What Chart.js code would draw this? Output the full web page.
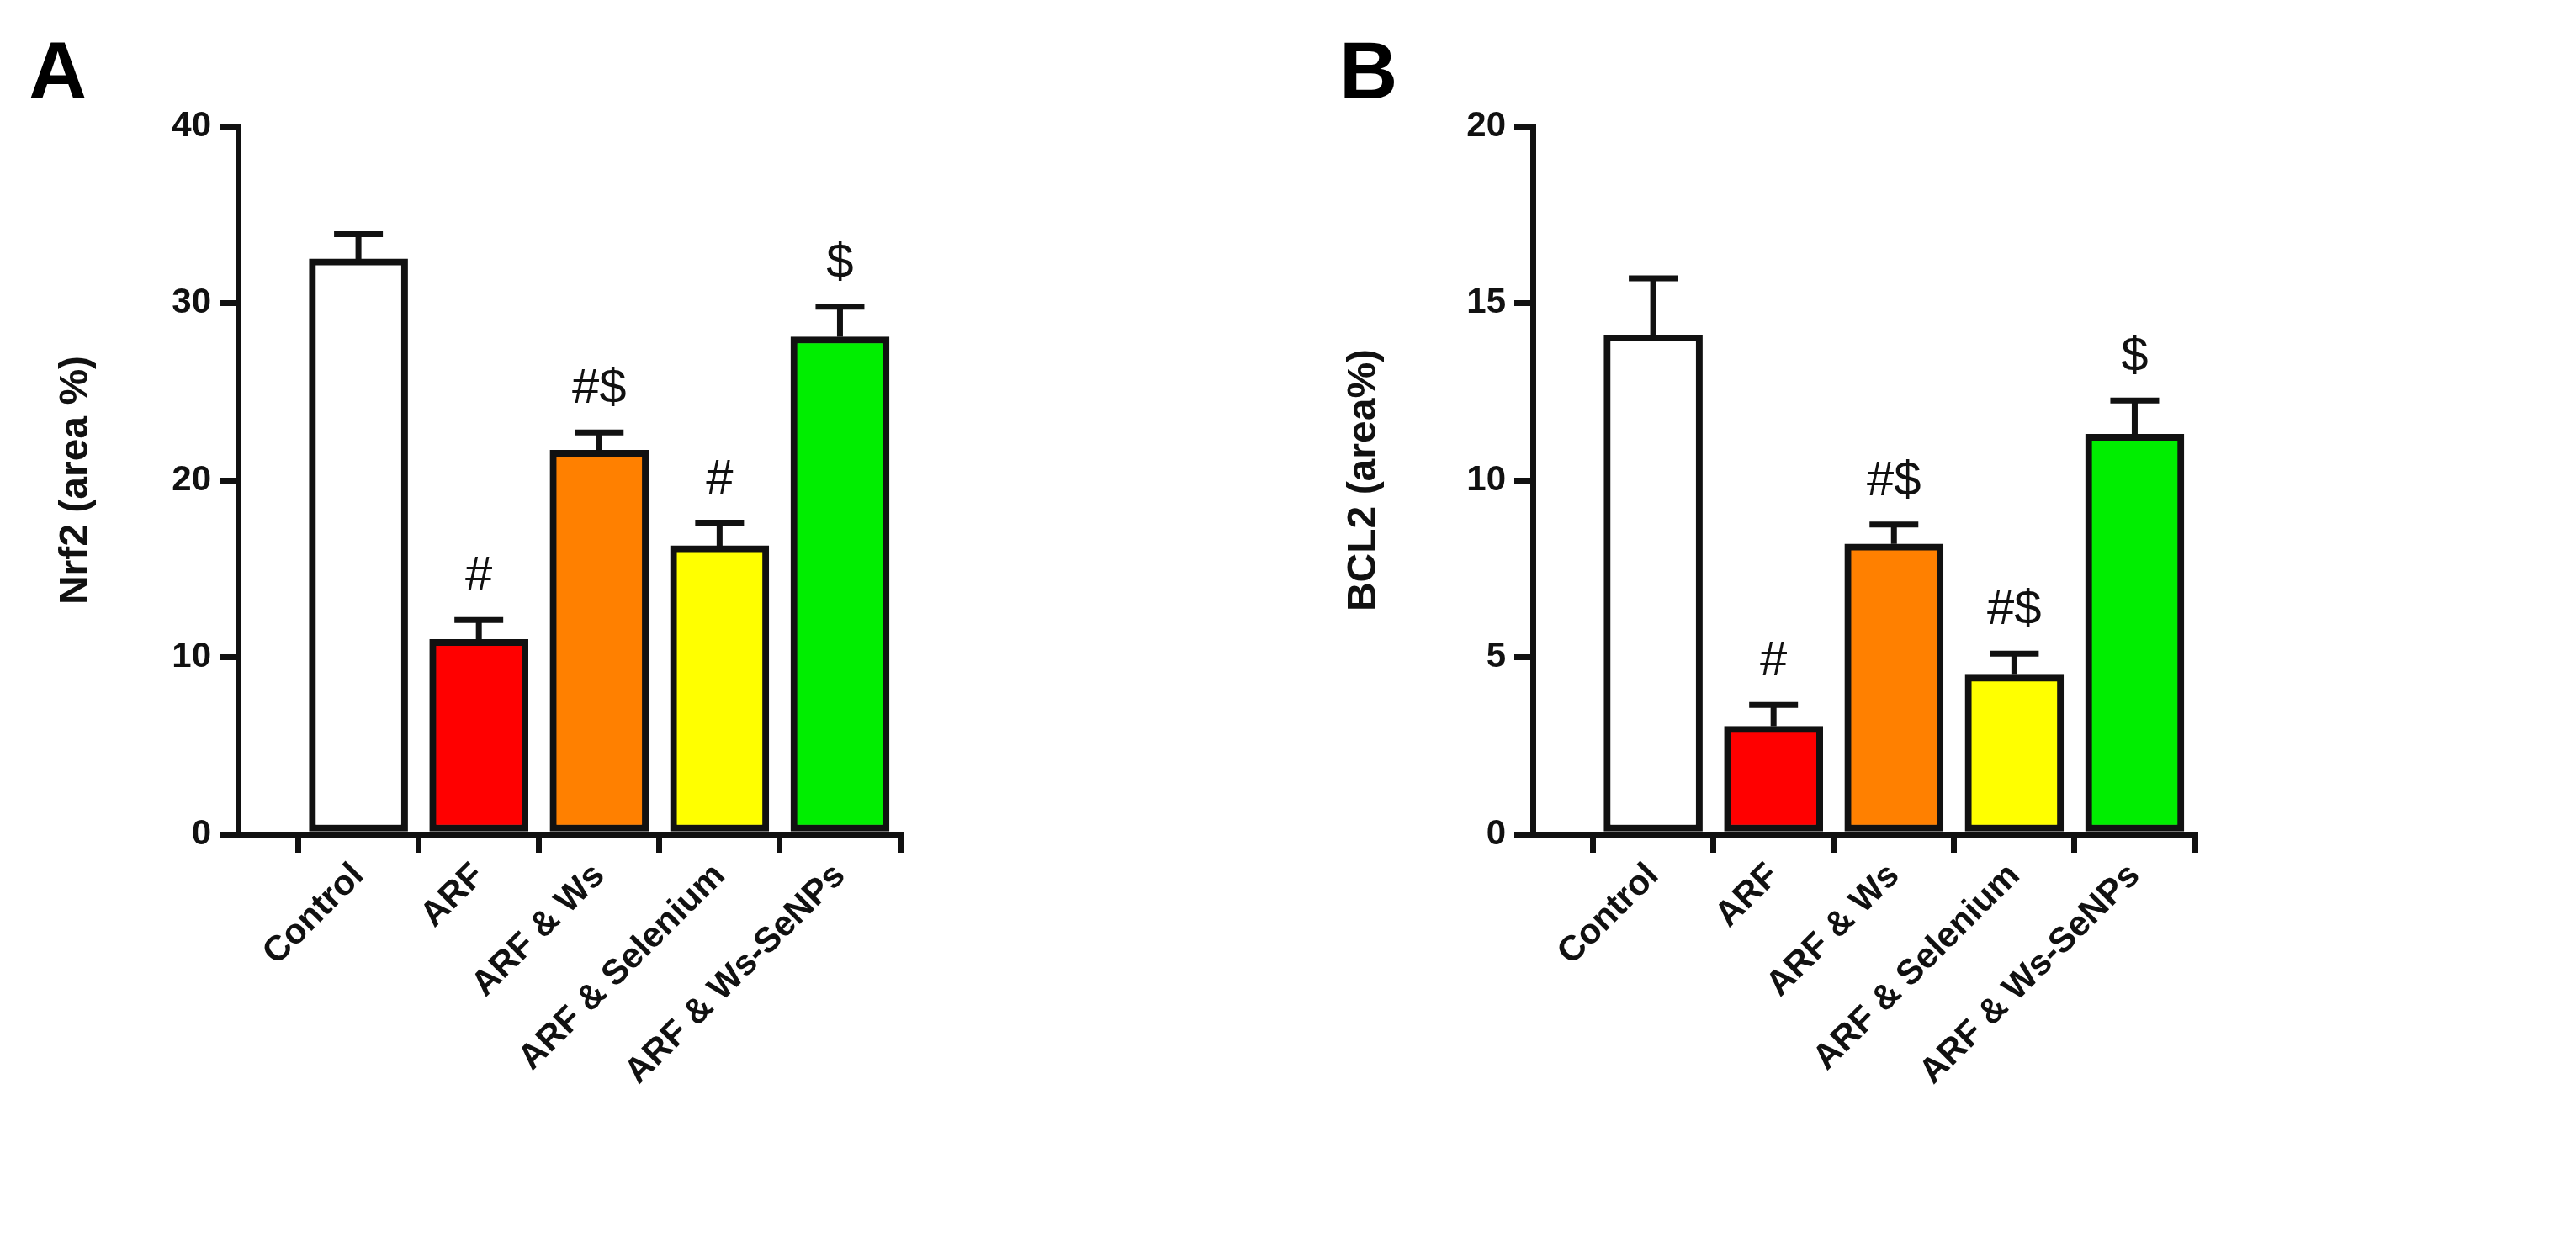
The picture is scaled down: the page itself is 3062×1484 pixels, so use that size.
<!DOCTYPE html>
<html><head><meta charset="utf-8">
<script src="https://cdn.jsdelivr.net/npm/chart.js@4"></script>
<style>
body{margin:0;background:#fff;width:3062px;height:1484px;position:relative;overflow:hidden;font-family:Arial,"Liberation Sans",sans-serif}
.p{position:absolute;top:0;width:1531px;height:1484px}
.L{position:absolute;font-weight:bold;font-size:96px;line-height:1}
</style></head><body>
<div class="p" style="left:0"><canvas id="a"></canvas></div>
<div class="p" style="left:1531px"><canvas id="b"></canvas></div>
<div class="L" style="left:34px;top:36px">A</div>
<div class="L" style="left:1592px;top:36px">B</div>
<script>
// groups
var groups = ['Control', 'ARF', 'ARF & Ws', 'ARF & Selenium', 'ARF & Ws-SeNPs'];
var colors = ['#ffffff', '#ff0000', '#ff8000', '#ffff00', '#00ee00'];
// panel A: Nrf2
var nrf2 = [32.5, 11.0, 21.7, 16.3, 28.1];
var nrf2Err = [1.4, 1.1, 1.0, 1.3, 1.7];
var nrf2Sig = ['', '#', '#$', '#', '$'];
// panel B: BCL2
var bcl2 = [14.1, 3.05, 8.2, 4.5, 11.3];
var bcl2Err = [1.6, 0.6, 0.55, 0.6, 0.95];
var bcl2Sig = ['', '#', '#$', '#$', '$'];

var errPlugin = {
  id: 'err',
  afterDatasetsDraw: function(c) {
    var o = c.options.plugins.err, x = c.scales.x, y = c.scales.y, ctx = c.ctx;
    ctx.save();
    ctx.strokeStyle = '#111'; ctx.lineWidth = 7; ctx.fillStyle = '#111';
    ctx.font = '58px Arial'; ctx.textAlign = 'center'; ctx.textBaseline = 'bottom';
    o.vals.forEach(function(v, i) {
      var px = x.getPixelForValue(i), y0 = y.getPixelForValue(v), y1 = y.getPixelForValue(v + o.errs[i]);
      ctx.beginPath(); ctx.moveTo(px, y0); ctx.lineTo(px, y1);
      ctx.moveTo(px - 29, y1); ctx.lineTo(px + 29, y1); ctx.stroke();
      if (o.sig[i]) ctx.fillText(o.sig[i], px, y1 - 22);
    });
    ctx.restore();
  }
};

function make(id, vals, errs, sig, ymax, step, title, axisLeft) {
  new Chart(document.getElementById(id), {
    type: 'bar',
    data: { datasets: [{
      data: vals.map(function(v, i) { return {x: i, y: v}; }),
      backgroundColor: colors, borderColor: '#111', borderWidth: 8, borderSkipped: false,
      barThickness: 117
    }]},
    options: {
      responsive: false, animation: false,
      layout: { padding: { left: 0, top: 150, right: 1531 - axisLeft - 787, bottom: 0 } },
      plugins: { legend: { display: false }, tooltip: { enabled: false },
        err: { vals: vals, errs: errs, sig: sig } },
      scales: {
        x: { type: 'linear', min: -1, max: 4.5, offset: false,
          afterBuildTicks: function(s) { s.ticks = [0,1,2,3,4].map(function(v){ return {value: v}; }); },
          afterFit: function(s) { s.height = 492; },
          grid: { display: true, drawOnChartArea: false, tickLength: 22, color: '#111', lineWidth: 7 },
          border: { color: '#111', width: 7 },
          ticks: { autoSkip: false, maxRotation: 45, minRotation: 45, color: '#111',
            font: { size: 42, weight: 'bold', family: 'Arial' },
            callback: function(v) { return groups[v] || ''; } }
        },
        y: { min: 0, max: ymax,
          afterFit: function(s) { s.width = axisLeft; },
          grid: { drawOnChartArea: false, tickLength: 22, color: '#111', lineWidth: 7 },
          border: { color: '#111', width: 7 },
          ticks: { stepSize: step, color: '#111', padding: 10, font: { size: 42, weight: 'bold', family: 'Arial' } },
          title: { display: true, text: title, color: '#111', padding: { top: 62, bottom: 0 },
            font: { size: 48, weight: 'bold', family: 'Arial' } }
        }
      }
    },
    plugins: [errPlugin]
  });
}
var ca = document.getElementById('a'); ca.width = 1531; ca.height = 1484;
var cb = document.getElementById('b'); cb.width = 1531; cb.height = 1484;
make('a', nrf2, nrf2Err, nrf2Sig, 40, 10, 'Nrf2 (area %)', 283);
make('b', bcl2, bcl2Err, bcl2Sig, 20, 5, 'BCL2 (area%)', 291);
</script>
</body></html>
